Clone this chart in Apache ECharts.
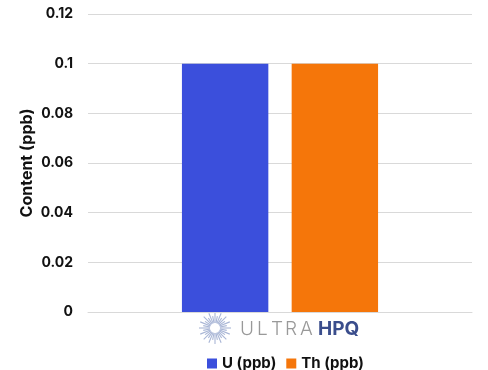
<!DOCTYPE html>
<html><head><meta charset="utf-8">
<script src="https://cdn.jsdelivr.net/npm/echarts@6/dist/echarts.min.js"></script>
<style>html,body{margin:0;padding:0;background:#fff}#c{width:488px;height:370px}</style>
</head><body><div id="c"></div>
<script>
var categories = [''];
var seriesNames = ['U (ppb)', 'Th (ppb)'];
var uValues = [0.1];
var thValues = [0.1];
var yTicks = [0, 0.02, 0.04, 0.06, 0.08, 0.1, 0.12];
var colors = ['#3b4fdc', '#f5760a'];

var chart = echarts.init(document.getElementById('c'));
var deco = [];
var cx = 215, cy = 328, n = 32;
for (var i = 0; i < n; i++) {
  var a = i * 2 * Math.PI / n;
  var r1 = 5, r2 = (i % 2 === 0) ? 16 : 12;
  deco.push({type: 'line', shape: {x1: cx + r1 * Math.cos(a), y1: cy + r1 * Math.sin(a), x2: cx + r2 * Math.cos(a), y2: cy + r2 * Math.sin(a)},
    style: {stroke: '#a9b6d6', lineWidth: 1.1}});
}
var ultra = ['U', 'L', 'T', 'R', 'A'];
var ux = [240, 257, 271, 285, 300];
for (var j = 0; j < ultra.length; j++) {
  deco.push({type: 'text', left: ux[j], top: 320, style: {text: ultra[j], fontFamily: 'Inter', fontWeight: 300, fontSize: 19, fill: '#999999'}});
}
deco.push({type: 'text', left: 318, top: 320, style: {text: 'HPQ', fontFamily: 'Inter', fontWeight: 'bold', fontSize: 19, fill: '#3a4d8c'}});

chart.setOption({
  animation: false,
  textStyle: {fontFamily: 'Inter'},
  grid: {left: 88, right: 16, top: 14, bottom: 58},
  legend: {
    top: 351, left: 202, itemWidth: 10, itemHeight: 10, itemGap: 10,
    icon: 'rect',
    textStyle: {fontFamily: 'Inter', fontWeight: 'bold', fontSize: 15, color: '#111'},
    data: seriesNames
  },
  xAxis: {
    type: 'category', data: categories,
    axisLine: {lineStyle: {color: '#d9d9d9'}}, axisTick: {show: false}, axisLabel: {show: false}
  },
  yAxis: {
    type: 'value', min: 0, max: 0.12, interval: 0.02,
    name: 'Content (ppb)', nameLocation: 'middle', nameGap: 53, nameRotate: 90, nameMoveOverlap: false,
    nameTextStyle: {fontFamily: 'Inter', fontWeight: 'bold', fontSize: 16, color: '#111'},
    axisLine: {show: false}, axisTick: {show: false},
    splitLine: {lineStyle: {color: '#d9d9d9'}},
    axisLabel: {margin: 15, fontFamily: 'Inter', fontWeight: 'bold', fontSize: 14, color: '#111',
      formatter: function (v) { return String(parseFloat(v.toFixed(2))); }}
  },
  series: [
    {name: seriesNames[0], type: 'bar', data: uValues, barWidth: '22.5%', barGap: '27%', itemStyle: {color: colors[0]}},
    {name: seriesNames[1], type: 'bar', data: thValues, barWidth: '22.5%', itemStyle: {color: colors[1]}}
  ],
  graphic: deco
});
</script></body></html>
